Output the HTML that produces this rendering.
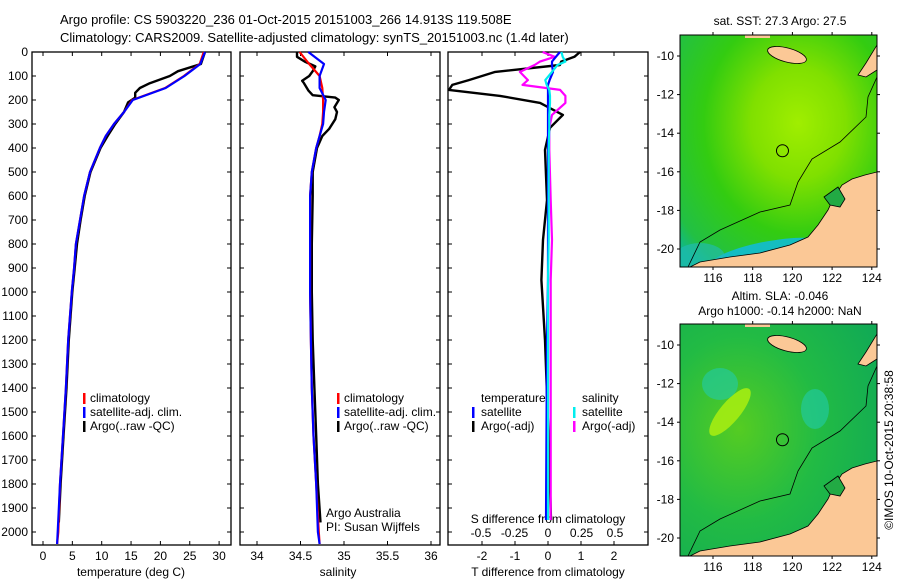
<!DOCTYPE html>
<html><head><meta charset="utf-8"><style>
body{margin:0;background:#fff}
svg{display:block;font-family:"Liberation Sans",sans-serif;font-size:12px}
</style></head><body>
<svg id="c" width="900" height="580" viewBox="0 0 900 580">
<text x="60" y="24" font-size="13">Argo profile: CS 5903220_236 01-Oct-2015 20151003_266 14.913S 119.508E</text>
<text x="60" y="42" font-size="13">Climatology: CARS2009. Satellite-adjusted climatology: synTS_20151003.nc (1.4d later)</text>
<g id="maps"></g>
<g id="plots"></g>
</svg>
<script>
// ---- data ----
const depthTicks=[0,100,200,300,400,500,600,700,800,900,1000,1100,1200,1300,1400,1500,1600,1700,1800,1900,2000];
const tempTicks=[0,5,10,15,20,25,30];
const salTicks=[34,34.5,35,35.5,36];
const tdiffTicks=[-2,-1,0,1,2];
const sdiffTicks=[-0.5,-0.25,0,0.25,0.5];
const sdiffLabels=["-0.5","-0.25","0","0.25","0.5"];

const climDepth=[0,50,100,150,200,250,300,350,400,500,600,700,800,900,1000,1200,1400,1600,1800,2000,2050];
const climTemp=[27.4,26.7,24,20.8,15.2,13.8,12.1,10.7,9.7,8,7,6.3,5.6,5.3,4.9,4.3,3.9,3.4,2.9,2.6,2.4];
const satTemp=[27.6,26.8,24.1,20.9,15.3,13.8,12.1,10.7,9.7,8,7,6.3,5.6,5.3,4.9,4.3,3.9,3.4,2.9,2.5,2.4];
const argoDepth=[0,50,80,100,130,150,170,190,210,250,300,350,400,500,600,700,800,900,1000,1200,1400,1600,1800,1960];
const argoTemp=[27.6,26.9,23,21.6,18.2,16.5,15.7,15.7,14.5,13.8,12.3,11,9.8,8.1,7.1,6.4,5.8,5.4,5,4.4,4,3.5,3,2.7];

const climSal=[34.49,34.6,34.72,34.75,34.76,34.76,34.75,34.72,34.68,34.63,34.61,34.61,34.61,34.61,34.61,34.62,34.63,34.65,34.68,34.71,34.72];
const satSal=[34.59,34.77,34.72,34.72,34.79,34.77,34.76,34.72,34.68,34.63,34.61,34.61,34.61,34.61,34.61,34.62,34.63,34.65,34.68,34.7,34.72];
const argoSalDepth=[0,20,40,60,80,100,120,130,160,180,190,200,230,250,280,320,350,400,500,600,800,1000,1200,1400,1600,1800,1960];
const argoSal=[34.46,34.46,34.55,34.67,34.64,34.6,34.52,34.54,34.59,34.64,34.9,34.94,34.89,34.92,34.9,34.83,34.75,34.69,34.64,34.64,34.63,34.63,34.64,34.66,34.68,34.7,34.73];

const diffDepth=[0,20,40,54,83,117,137,158,183,212,262,316,408,617,783,950,1200,1658,1950];
const argoTdiff=[0.97,0.8,0.4,0.36,-1.6,-2.4,-2.9,-3.0,-1.45,-0.24,0.45,0.06,-0.09,-0.03,-0.15,-0.2,-0.09,0.03,0.09];
const satTdiff=[0.36,0.24,0.12,0.12,0.15,0.05,0,0,0,0,0,0,0,0,0,0,-0.03,-0.05,-0.06];
const satSdiff=[0.1,0.11,0.13,0.07,0.03,-0.02,-0.01,0.01,0.015,0.015,0.01,0.01,0.005,0.005,0.005,0.0,0.0,0.0,0.0];
const argoSdiff=[-0.04,0.05,-0.06,-0.1,-0.21,-0.15,-0.19,0.09,0.13,0.13,0.03,0.01,0.01,0.02,0.03,0.02,0.02,0.02,0.02];

// ---- helpers ----
const NS="http://www.w3.org/2000/svg";
const P=document.getElementById('plots');
function mk(tag,at,parent){const e=document.createElementNS(NS,tag);for(const k in at)e.setAttribute(k,at[k]);(parent||P).appendChild(e);return e;}
const yTop=52,yBot=545;
function yD(d){return yTop+d*0.24;}
function line(xs,ds,fx,col,w,name){
  const pts=xs.map((v,i)=>fx(v).toFixed(1)+","+yD(ds[i]).toFixed(1)).join(" ");
  const e=mk('polyline',{points:pts,fill:"none",stroke:col,"stroke-width":w,"stroke-linejoin":"round"});
  
  
}
function frame(x0,x1,name){
  const r=mk('rect',{x:x0,y:yTop,width:x1-x0,height:yBot-yTop,fill:"none",stroke:"#000","stroke-width":1.3});
  
  
  depthTicks.forEach(d=>{const y=yD(d);
    mk('line',{x1:x0,x2:x0+4,y1:y,y2:y,stroke:"#000"});
    mk('line',{x1:x1-4,x2:x1,y1:y,y2:y,stroke:"#000"});});
}
function xticks(x0,ticks,fx,labels,ly,name){
  ticks.forEach((t,i)=>{const x=fx(t);
    mk('line',{x1:x,x2:x,y1:yBot-4,y2:yBot,stroke:"#000"});
    mk('line',{x1:x,x2:x,y1:yTop,y2:yTop+4,stroke:"#000"});
    if(labels){const e=mk('text',{x:x,y:ly,"text-anchor":"middle"});e.textContent=labels[i];
      
      }
  });
}
function txt(x,y,s,name,anchor){const e=mk('text',{x:x,y:y,"text-anchor":anchor||"start"});e.textContent=s;
  
  return e;}
function legMark(x,y,col){mk('rect',{x:x,y:y-9,width:2.5,height:11,fill:col});}

// panel 1: temperature
const fT=t=>43+t*5.87;
frame(32,231,'temperature-panel');
depthTicks.forEach(d=>{txt(28,yD(d)+4,String(d),'depth-tick-label','end');});
xticks(32,tempTicks,fT,tempTicks.map(String),560,'temperature-tick-label');
txt(131,576,"temperature (deg C)",'temperature-axis-title','middle');
line(argoTemp,argoDepth,fT,"#000",2.4,'argo-temperature-line');
line(climTemp,climDepth,fT,"#f00",2.2,'climatology-temperature-line');
line(satTemp,climDepth,fT,"#00f",2.2,'satellite-temperature-line');
legMark(83,402,"#f00");txt(90,402,"climatology",'legend-climatology');
legMark(83,416,"#00f");txt(90,416,"satellite-adj. clim.",'legend-satellite');
legMark(83,430,"#000");txt(90,430,"Argo(..raw -QC)",'legend-argo');

// panel 2: salinity
const fS=s=>257+(s-34)*87;
frame(240,440,'salinity-panel');
xticks(240,salTicks,fS,salTicks.map(String),560,'salinity-tick-label');
txt(338,576,"salinity",'salinity-axis-title','middle');
line(argoSal,argoSalDepth,fS,"#000",2.4,'argo-salinity-line');
line(climSal,climDepth,fS,"#f00",2.2,'climatology-salinity-line');
line(satSal,climDepth,fS,"#00f",2.2,'satellite-salinity-line');
legMark(337,402,"#f00");txt(344,402,"climatology",'legend-climatology-2');
legMark(337,416,"#00f");txt(344,416,"satellite-adj. clim.",'legend-satellite-2');
legMark(337,430,"#000");txt(344,430,"Argo(..raw -QC)",'legend-argo-2');
txt(326,517,"Argo Australia",'credit-argo-australia');
txt(326,531,"PI: Susan Wijffels",'credit-pi');

// panel 3: differences
const fTd=t=>548+t*33;
const fSd=s=>548+s*134;
frame(448,648,'difference-panel');
xticks(448,tdiffTicks,fTd,tdiffTicks.map(String),560,'t-diff-tick-label');
sdiffTicks.forEach((s,i)=>{txt(fSd(s),537,sdiffLabels[i],'s-diff-tick-label','middle');});
txt(548,523,"S difference from climatology",'s-diff-axis-title','middle');
txt(548,576,"T difference from climatology",'t-diff-axis-title','middle');
line(argoTdiff,diffDepth,fTd,"#000",2.4,'argo-t-diff-line');
line(argoSdiff,diffDepth,fSd,"#f0f",2.2,'argo-s-diff-line');
line(satTdiff,diffDepth,fTd,"#00f",2.2,'satellite-t-diff-line');
line(satSdiff,diffDepth,fSd,"#0ee",2.2,'satellite-s-diff-line');
txt(481,402,"temperature",'legend-temperature-header');
legMark(472,416,"#00f");txt(481,416,"satellite",'legend-t-satellite');
legMark(472,430,"#000");txt(481,430,"Argo(-adj)",'legend-t-argo');
txt(582,402,"salinity",'legend-salinity-header');
legMark(573,416,"#0ee");txt(582,416,"satellite",'legend-s-satellite');
legMark(573,430,"#f0f");txt(582,430,"Argo(-adj)",'legend-s-argo');

// ---- maps ----
const M=document.getElementById('maps');
const lonTicks=[116,118,120,122,124];
const latTicks=[-10,-12,-14,-16,-18,-20];
function drawMap(top,kind){
  const x0=680,x1=877,bot=top+232;
  const fLon=l=>713+(l-116)*19.85;
  const fLat=a=>top+21+(-10-a)*19.3;
  const g=mk('g',{},M);
  
  
  const id=kind+'grad';
  const defs=mk('defs',{},g);
  const cp=mk('clipPath',{id:kind+'clip'},defs);
  mk('rect',{x:x0,y:top,width:x1-x0,height:bot-top},cp);
  if(kind==='sst'){
    const lg=mk('radialGradient',{id:id,cx:"0.6",cy:"0.38",r:"0.8"},defs);
    mk('stop',{offset:"0",'stop-color':"#a0ee00"},lg);
    mk('stop',{offset:"0.3",'stop-color':"#80e000"},lg);
    mk('stop',{offset:"0.6",'stop-color':"#33cc11"},lg);
    mk('stop',{offset:"0.9",'stop-color':"#22c044"},lg);
    mk('stop',{offset:"1",'stop-color':"#11b888"},lg);
  }else{
    const lg=mk('radialGradient',{id:id,cx:"0.3",cy:"0.45",r:"0.8"},defs);
    mk('stop',{offset:"0",'stop-color':"#55cc22"},lg);
    mk('stop',{offset:"0.5",'stop-color':"#22bb44"},lg);
    mk('stop',{offset:"1",'stop-color':"#11aa55"},lg);
  }
  const c=mk('g',{'clip-path':'url(#'+kind+'clip)'},g);
  mk('rect',{x:x0,y:top,width:x1-x0,height:bot-top,fill:"url(#"+id+")"},c);
  if(kind==='sst'){
    mk('ellipse',{cx:770,cy:bot-12,rx:60,ry:14,fill:"#11bbdd",opacity:"0.85",transform:"rotate(-10 770 "+(bot-12)+")"},c);
    mk('ellipse',{cx:700,cy:bot-10,rx:25,ry:14,fill:"#22bbbb",opacity:"0.6"},c);
  }
  if(kind==='sla'){
    mk('ellipse',{cx:730,cy:top+88,rx:10,ry:30,fill:"#aaee11",transform:"rotate(40 730 "+(top+88)+")",opacity:"0.85"},c);
    mk('ellipse',{cx:720,cy:top+60,rx:18,ry:16,fill:"#22ccaa",opacity:"0.6"},c);
    mk('ellipse',{cx:815,cy:top+85,rx:14,ry:20,fill:"#22ccaa",opacity:"0.6"},c);
  }
  // land
  const land=[[690,bot],[700,bot-5],[730,bot-10],[760,bot-14],[790,bot-22],[808,bot-30],[818,bot-42],[828,bot-57],[834,bot-70],[842,bot-82],[852,bot-88],[865,bot-92],[877,bot-95],[877,bot]];
  mk('polygon',{points:land.map(p=>p.join(",")).join(" "),fill:"#fbc896",stroke:"#000","stroke-width":0.8},c);
  mk('polygon',{points:[[824,bot-70],[838,bot-80],[845,bot-68],[840,bot-60],[830,bot-62]].map(p=>p.join(",")).join(" "),fill:"#22aa44",stroke:"#000","stroke-width":0.8},c);
  mk('ellipse',{cx:787,cy:top+20,rx:20,ry:7,fill:"#fbc896",stroke:"#000","stroke-width":0.8,transform:"rotate(15 787 "+(top+20)+")"},c);
  mk('polygon',{points:[[858,top+40],[866,top+28],[877,top+10],[877,top+35],[866,top+42]].map(p=>p.join(",")).join(" "),fill:"#fbc896",stroke:"#000","stroke-width":0.8},c);
  mk('rect',{x:745,y:top,width:25,height:3,fill:"#fbc896"},c);
  // isobath
  mk('polyline',{points:[[688,bot],[700,bot-25],[720,bot-37],[760,bot-55],[790,bot-62],[798,bot-85],[812,bot-108],[840,bot-125],[866,bot-150],[868,bot-170],[877,bot-190]].map(p=>p.join(",")).join(" "),fill:"none",stroke:"#000","stroke-width":0.8},c);
  mk('circle',{cx:fLon(119.5),cy:fLat(-14.91),r:6,fill:"none",stroke:"#000","stroke-width":1},g);
  mk('rect',{x:x0,y:top,width:x1-x0,height:bot-top,fill:"none",stroke:"#000","stroke-width":1},g);
  lonTicks.forEach(l=>{const x=fLon(l);
    mk('line',{x1:x,x2:x,y1:top-3,y2:top,stroke:"#000"},g);
    mk('line',{x1:x,x2:x,y1:bot,y2:bot+3,stroke:"#000"},g);
    const t=mk('text',{x:x,y:bot+15,"text-anchor":"middle"},g);t.textContent=String(l);
    
    });
  latTicks.forEach(a=>{const y=fLat(a);
    mk('line',{x1:x0-3,x2:x0,y1:y,y2:y,stroke:"#000"},g);
    mk('line',{x1:x1,x2:x1+3,y1:y,y2:y,stroke:"#000"},g);
    const t=mk('text',{x:x0-6,y:y+4,"text-anchor":"end"},g);t.textContent=String(a);
    
    });
}
drawMap(35,'sst');
drawMap(324,'sla');
function mt(x,y,s,name,extra){const e=mk('text',Object.assign({x:x,y:y,"text-anchor":"middle"},extra||{}),M);e.textContent=s;
  
  }
mt(780,25,"sat. SST: 27.3 Argo: 27.5",'sst-map-title');
mt(780,300,"Altim. SLA: -0.046",'sla-title');
mt(780,315,"Argo h1000: -0.14 h2000: NaN",'argo-height-title');
mt(0,0,"©IMOS 10-Oct-2015 20:38:58",'imos-timestamp',{transform:"translate(893,450) rotate(-90)"});
</script>
</body></html>
